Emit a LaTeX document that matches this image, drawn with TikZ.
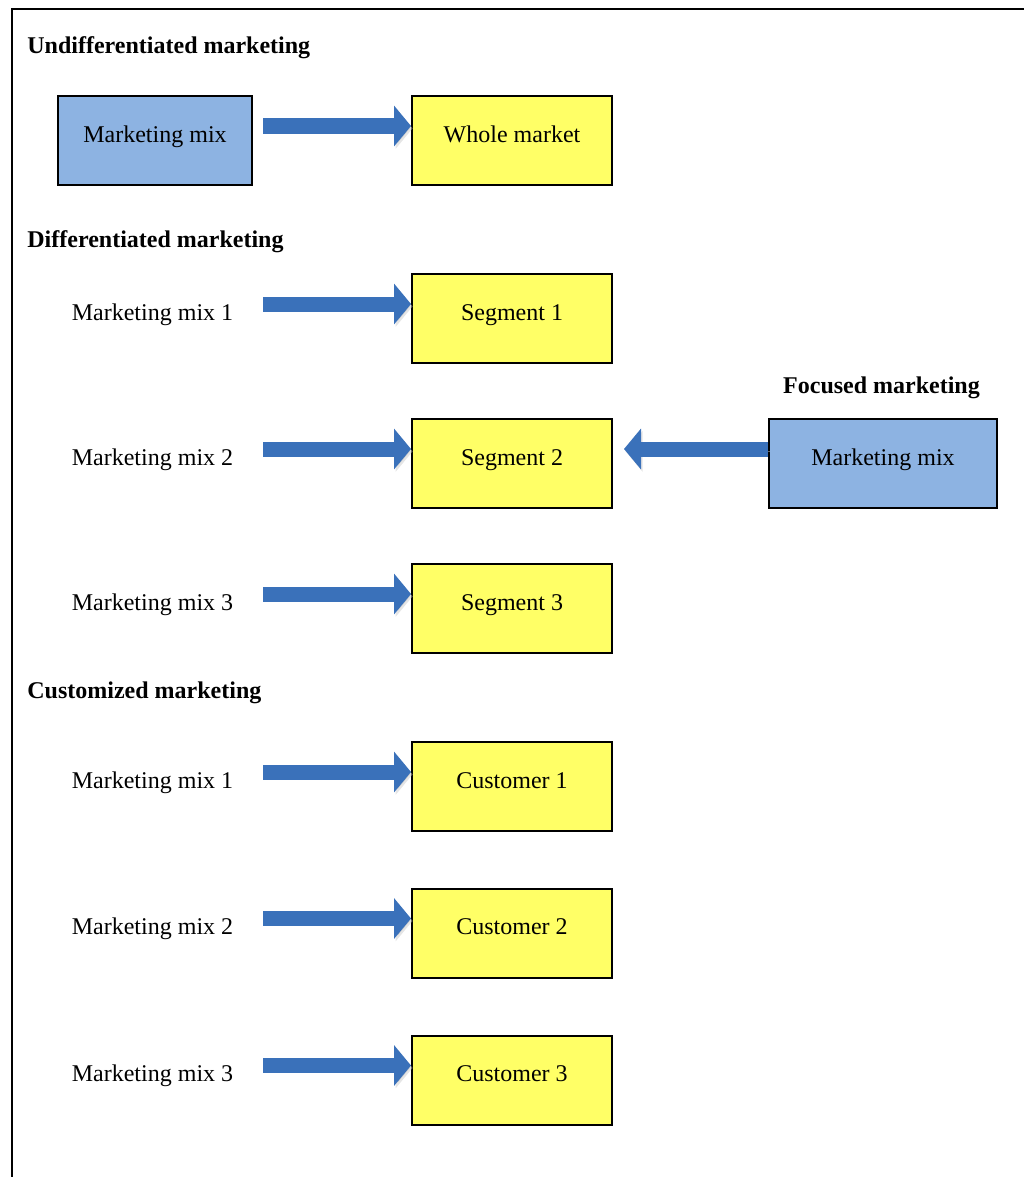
\documentclass[tikz,border=0pt]{standalone}
\usepackage{fontspec}
\setmainfont{Liberation Serif}
\usepackage{tikz}
\usepackage{xcolor}
\usetikzlibrary{arrows.meta}

\definecolor{mixblue}{RGB}{141,179,226}
\definecolor{segyellow}{RGB}{255,255,102}
\definecolor{flowblue}{RGB}{58,113,186}

\begin{document}
\begin{tikzpicture}[x=0.5pt,y=-0.5pt,
	txt/.style={font=\fontsize{12}{14}\selectfont,inner xsep=0pt,inner ysep=0pt,text height=23pt,text depth=21.5pt},
	box/.style={txt,draw,line width=1pt,minimum width=100pt},
	mixbox/.style={box,fill=mixblue},
	segbox/.style={box,fill=segyellow},
	head/.style={font=\fontsize{12}{14}\selectfont\bfseries,anchor=base west,inner sep=0pt},
	flow/.style={-{Triangle[length=8.5pt,width=20pt]},line width=7.5pt,flowblue,
		preaction={draw=black!20,draw opacity=0.5,transform canvas={shift={(0.8pt,-1.2pt)}}}}]
\useasboundingbox (0,0) rectangle (1024,1177);
\draw[line width=1pt](12,1177)--(12,9)--(1024,9);
\coordinate (x0) at (263,0);

% undifferentiated
\node[head] (uhead) at (27,53.5){Undifferentiated marketing};
\node[mixbox,minimum width=97pt] (umix) at (155,140.5){Marketing mix};
\node[segbox] (whole) at (512,140.5){Whole market};
\draw[flow]([yshift=7.25pt]whole.west -| x0)--([yshift=7.25pt]whole.west);

% differentiated
\node[head] (dhead) at (27,247){Differentiated marketing};
\foreach\y/\n in {318.5/1,463.5/2,608.5/3}{
	\node[txt] (dmix\n) at (152.5,\y){Marketing mix \n};
	\node[segbox] (seg\n) at (512,\y){Segment \n};
	\draw[flow]([yshift=7.25pt]seg\n.west -| x0)--([yshift=7.25pt]seg\n.west);}

% focused
\node[head,anchor=base] (fhead) at (881.5,393.5){Focused marketing};
\node[mixbox,minimum width=114pt] (fmix) at (883,463.5){Marketing mix};
\draw[flow]([yshift=7.25pt]fmix.west)--([xshift=5.5pt,yshift=7.25pt]seg2.east);

% customized
\node[head] (chead) at (27,698){Customized marketing};
\foreach\y/\n in {786.5/1,933/2,1080/3}{
	\node[txt] (cmix\n) at (152.5,\y){Marketing mix \n};
	\node[segbox] (cust\n) at (512,\y){Customer \n};
	\draw[flow]([yshift=7.25pt]cust\n.west -| x0)--([yshift=7.25pt]cust\n.west);}
\end{tikzpicture}
\end{document}
